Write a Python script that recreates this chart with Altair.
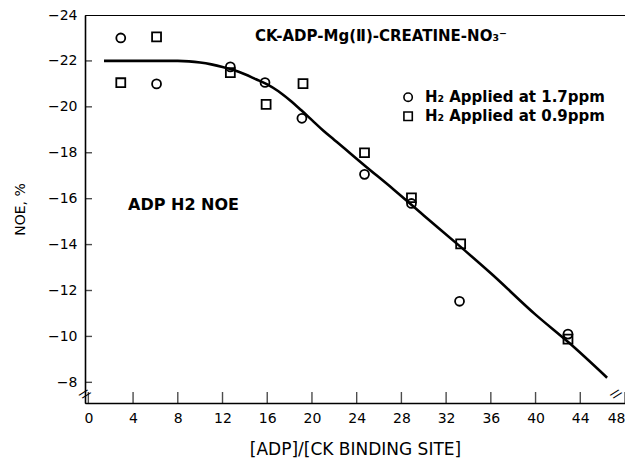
import altair as alt
import pandas as pd

# ---- data ----
circ_x = [2.9, 6.1, 12.7, 15.8, 19.1, 24.7, 28.9, 33.2, 42.9]
circ_y = [-23.0, -21.0, -21.74, -21.06, -19.5, -17.06, -15.79, -11.53, -10.1]
sq_x = [2.9, 6.1, 12.7, 15.9, 19.2, 24.7, 28.9, 33.3, 42.9]
sq_y = [-21.05, -23.05, -21.49, -20.11, -21.01, -18.0, -16.04, -14.03, -9.88]

curve_x = [1.4, 6, 8, 9, 10, 11, 12, 13, 14, 15, 16, 17, 18, 19, 20, 21, 22, 23,
           24.6, 27.3, 30, 33.3, 36, 40, 43, 46.4]
curve_y = [-22.0, -22.0, -22.0, -21.98, -21.93, -21.85, -21.74, -21.6, -21.42, -21.2,
           -20.98, -20.68, -20.3, -19.87, -19.42, -18.97, -18.56, -18.15,
           -17.49, -16.4, -15.27, -13.9, -12.75, -10.95, -9.72, -8.2]

x_ticks = [0, 4, 8, 12, 16, 20, 24, 28, 32, 36, 40, 44, 48]
y_ticks = [-24, -22, -20, -18, -16, -14, -12, -10, -8]
x_domain = [-0.3, 48]
y_domain = [-24, -7.1]

series_names = ["1.7ppm", "0.9ppm"]
legend_labels = ["H\u2082 Applied at 1.7ppm", "H\u2082 Applied at 0.9ppm"]
legend_x = 28.6
legend_text_x = 30.1
legend_y = [-20.42, -19.59]

annot_text = ["CK-ADP-Mg(\u2161)-CREATINE-NO\u2083\u207b", "ADP H2 NOE"]
annot_x = [14.9, 3.55]
annot_y = [-23.08, -15.71]
annot_size = [15, 16]

break_x = [-0.3, 47.2]
break_y = [-7.5, -7.5]

# ---- tables ----
pts = pd.DataFrame({
    "x": circ_x + sq_x,
    "y": circ_y + sq_y,
    "series": [series_names[0]] * len(circ_x) + [series_names[1]] * len(sq_x),
})
curve = pd.DataFrame({"x": curve_x, "y": curve_y})
legend_df = pd.DataFrame({"x": [legend_x] * 2, "tx": [legend_text_x] * 2,
                          "y": legend_y, "series": series_names, "label": legend_labels})
annot_df = pd.DataFrame({"x": annot_x, "y": annot_y, "t": annot_text, "s": annot_size})
xt_df = pd.DataFrame({"x": x_ticks})
yt_df = pd.DataFrame({"y": y_ticks})
br_df = pd.DataFrame({"x": break_x, "y": break_y})

FONT = "DejaVu Sans"
xs = alt.Scale(domain=x_domain, nice=False, zero=False)
ys = alt.Scale(domain=y_domain, nice=False, zero=False, reverse=True)
shape_scale = alt.Scale(domain=series_names, range=["circle", "square"])

x_axis = alt.Axis(values=x_ticks, tickSize=0, labelPadding=8, labelFontSize=14,
                  labelFont=FONT, labelColor="black", domainColor="black", domainWidth=1.6,
                  grid=False, title="[ADP]/[CK BINDING SITE]", titleFont=FONT,
                  titleFontSize=17, titleFontWeight="normal", titlePadding=16,
                  titleColor="black", labelFlush=True)
y_axis = alt.Axis(values=y_ticks, tickSize=0, labelPadding=8, labelFontSize=14,
                  labelFont=FONT, labelColor="black", domainColor="black", domainWidth=1.6,
                  grid=False, title="NOE, %", titleFont=FONT, titleFontSize=14,
                  titleFontWeight="normal", titlePadding=20, titleColor="black")

base_line = alt.Chart(curve).mark_line(color="black", strokeWidth=2.6, interpolate="monotone").encode(
    x=alt.X("x:Q", scale=xs, axis=x_axis),
    y=alt.Y("y:Q", scale=ys, axis=y_axis),
)

points = alt.Chart(pts).mark_point(filled=False, color="black", strokeWidth=1.8, size=80, opacity=1).encode(
    x=alt.X("x:Q", scale=xs),
    y=alt.Y("y:Q", scale=ys),
    shape=alt.Shape("series:N", scale=shape_scale, legend=None),
)

xticks = alt.Chart(xt_df).mark_tick(orient="vertical", size=22, thickness=1.4, color="black", clip=True).encode(
    x=alt.X("x:Q", scale=xs),
    y=alt.datum(y_domain[1], scale=ys),
)
yticks = alt.Chart(yt_df).mark_tick(orient="horizontal", size=14, thickness=1.4, color="black", clip=True).encode(
    y=alt.Y("y:Q", scale=ys),
    x=alt.datum(x_domain[0], scale=xs),
)

breaks = alt.Chart(br_df).mark_text(text="//", font=FONT, fontSize=12, color="black",
                                    angle=40, align="center", baseline="middle").encode(
    x=alt.X("x:Q", scale=xs),
    y=alt.Y("y:Q", scale=ys),
)

leg_pts = alt.Chart(legend_df).mark_point(filled=False, color="black", strokeWidth=1.6, size=70, opacity=1).encode(
    x=alt.X("x:Q", scale=xs),
    y=alt.Y("y:Q", scale=ys),
    shape=alt.Shape("series:N", scale=shape_scale, legend=None),
)
leg_txt = alt.Chart(legend_df).mark_text(align="left", baseline="middle", font=FONT, fontSize=15,
                                         fontWeight="bold", color="black").encode(
    x=alt.X("tx:Q", scale=xs),
    y=alt.Y("y:Q", scale=ys),
    text="label:N",
)
annots = alt.Chart(annot_df).mark_text(align="left", baseline="middle", font=FONT,
                                       fontWeight="bold", color="black").encode(
    x=alt.X("x:Q", scale=xs),
    y=alt.Y("y:Q", scale=ys),
    text="t:N",
    size=alt.Size("s:Q", scale=None, legend=None),
)

chart = alt.layer(base_line, points, xticks, yticks, breaks, leg_pts, leg_txt, annots).properties(
    width=540, height=388,
    autosize=alt.AutoSizeParams(type="none"),
    padding={"left": 77, "top": 7, "right": 0, "bottom": 57},
    background="white",
).configure_view(stroke="black", strokeWidth=1)

chart.save("out.html", embed_options={"renderer": "svg", "actions": False})
